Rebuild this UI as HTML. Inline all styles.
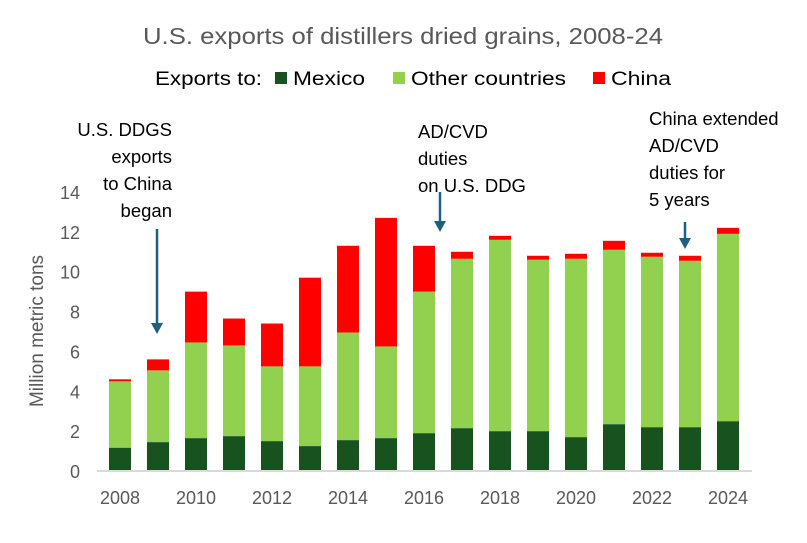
<!DOCTYPE html>
<html><head><meta charset="utf-8"><style>
body{margin:0;background:#fff;}
svg text{font-family:"Liberation Sans",sans-serif;}
</style></head><body>
<svg width="807" height="538" id="c">
<text x="143" y="44" textLength="520" lengthAdjust="spacingAndGlyphs" font-size="23" fill="#595959">U.S. exports of distillers dried grains, 2008-24</text>
<g font-size="19" fill="#000">
<text x="155" y="85" textLength="107" lengthAdjust="spacingAndGlyphs">Exports to:</text>
<rect x="275" y="72" width="12" height="12" fill="#17521f"/>
<text x="293" y="85" textLength="72" lengthAdjust="spacingAndGlyphs">Mexico</text>
<rect x="393" y="72" width="12" height="12" fill="#92d050"/>
<text x="411" y="85" textLength="155" lengthAdjust="spacingAndGlyphs">Other countries</text>
<rect x="593" y="72" width="12" height="12" fill="#ff0000"/>
<text x="611" y="85" textLength="60" lengthAdjust="spacingAndGlyphs">China</text>
</g>
<text transform="translate(43,331) rotate(-90)" text-anchor="middle" font-size="19" fill="#595959">Million metric tons</text>
<g id="yt"></g><g id="bars"></g><g id="xt"></g>
<line x1="97" x2="752" y1="471" y2="471" stroke="#d9d9d9" stroke-width="2"/>
<g font-size="18.5" fill="#000">
<text text-anchor="end"><tspan x="172" y="136">U.S. DDGS</tspan><tspan x="172" y="163">exports</tspan><tspan x="172" y="190">to China</tspan><tspan x="172" y="217">began</tspan></text>
<text><tspan x="418" y="138">AD/CVD</tspan><tspan x="418" y="165">duties</tspan><tspan x="418" y="192">on U.S. DDG</tspan></text>
<text><tspan x="649" y="125">China extended</tspan><tspan x="649" y="152">AD/CVD</tspan><tspan x="649" y="179">duties for</tspan><tspan x="649" y="206">5 years</tspan></text>
</g>
<g fill="#1f6080" stroke="#1f6080" stroke-width="2.5">
<line x1="157" y1="229" x2="157" y2="323"/><polygon points="151,323 163,323 157,334" stroke="none"/>
<line x1="440" y1="192" x2="440" y2="221"/><polygon points="434,221 446,221 440,232" stroke="none"/>
<line x1="685" y1="222" x2="685" y2="238"/><polygon points="679,238 691,238 685,249" stroke="none"/>
</g>
</svg>
<script>
const years=[2008,2009,2010,2011,2012,2013,2014,2015,2016,2017,2018,2019,2020,2021,2022,2023,2024];
const mexico=[1.17,1.45,1.65,1.75,1.5,1.25,1.55,1.65,1.9,2.15,2.0,2.0,1.7,2.35,2.2,2.2,2.5];
const other=[3.33,3.6,4.8,4.55,3.75,4.0,5.4,4.6,7.1,8.5,9.6,8.6,8.95,8.75,8.55,8.35,9.4];
const china=[0.1,0.55,2.55,1.35,2.15,4.45,4.35,6.45,2.3,0.35,0.2,0.2,0.25,0.45,0.2,0.25,0.3];
const yTicks=[0,2,4,6,8,10,12,14];
const xLabels=[2008,2010,2012,2014,2016,2018,2020,2022,2024];
const NS='http://www.w3.org/2000/svg';
const y=v=>471-v*19.93;
const x=yr=>120+(yr-2008)*38;
function mk(t,a,p){const e=document.createElementNS(NS,t);for(const k in a)e.setAttribute(k,a[k]);p.appendChild(e);return e;}
const yt=document.getElementById('yt'),bars=document.getElementById('bars'),xt=document.getElementById('xt');
yTicks.forEach(v=>{const t=mk('text',{x:80,y:y(v)+7,'text-anchor':'end','font-size':18,fill:'#595959'},yt);t.textContent=v;

});
xLabels.forEach(v=>{const t=mk('text',{x:x(v),y:504,'text-anchor':'middle','font-size':18,fill:'#595959'},xt);t.textContent=v;

});
years.forEach((yr,i)=>{let base=0;[[mexico,'#17521f','mexico'],[other,'#92d050','other'],[china,'#ff0000','china']].forEach(([arr,c,n])=>{
const v=arr[i];const r=mk('rect',{x:x(yr)-11,y:y(base+v),width:22,height:y(base)-y(base+v),fill:c},bars);


base+=v;});});
</script>
</body></html>
